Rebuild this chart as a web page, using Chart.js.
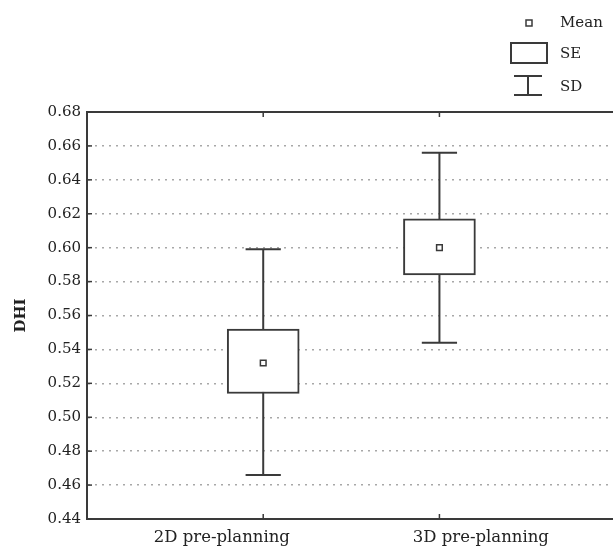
<!DOCTYPE html>
<html>
<head>
<meta charset="utf-8">
<script src="https://cdn.jsdelivr.net/npm/chart.js@4"></script>
<style>
  html, body { margin: 0; padding: 0; background: #ffffff; }
  #wrap { width: 613px; height: 549px; }
</style>
</head>
<body>
<div id="wrap"><canvas id="grafico"></canvas></div>
<script>
// Dados
const groups = ["2D pre-planning", "3D pre-planning"];
const means = [0.532, 0.600];
const seLow = [0.514, 0.584];
const seHigh = [0.552, 0.617];
const sdLow = [0.466, 0.544];
const sdHigh = [0.599, 0.656];
const yMin = 0.44, yMax = 0.68, yStep = 0.02;

const ink = "#3a3a3a";
const serif = "'DejaVu Serif', 'Liberation Serif', serif";
const capHalf = 0.1;      // meia largura da barra do SD (unidades de x)
const labelShift = 0.235; // deslocamento dos rótulos de x

const datasets = [];

// Caixas SE (barras flutuantes)
datasets.push({
  type: "bar",
  data: groups.map((g, i) => ({ x: i + 1, y: [seLow[i], seHigh[i]] })),
  backgroundColor: "#ffffff",
  borderColor: ink,
  borderWidth: 2,
  borderSkipped: false,
  barThickness: 72,
  order: 1
});

// Bigodes SD e barras das pontas
groups.forEach((g, i) => {
  const x = i + 1;
  const line = {
    type: "line",
    borderColor: ink,
    borderWidth: 2,
    pointRadius: 0,
    fill: false,
    order: 2
  };
  datasets.push({ ...line, data: [{ x: x, y: sdLow[i] }, { x: x, y: sdHigh[i] }] });
  datasets.push({ ...line, data: [{ x: x - capHalf, y: sdHigh[i] }, { x: x + capHalf, y: sdHigh[i] }] });
  datasets.push({ ...line, data: [{ x: x - capHalf, y: sdLow[i] }, { x: x + capHalf, y: sdLow[i] }] });
});

// Médias
datasets.push({
  type: "scatter",
  data: groups.map((g, i) => ({ x: i + 1, y: means[i] })),
  pointStyle: "rect",
  pointRadius: 4,
  backgroundColor: "#ffffff",
  borderColor: ink,
  borderWidth: 1.5,
  order: 0
});

// Moldura: linha de cima e marcas internas
const framePlugin = {
  id: "frame",
  afterDraw(chart) {
    const { ctx, chartArea: a, scales } = chart;
    ctx.save();
    ctx.strokeStyle = ink;
    ctx.lineWidth = 2;
    ctx.beginPath();
    ctx.moveTo(a.left, a.top);
    ctx.lineTo(a.right, a.top);
    ctx.stroke();
    ctx.lineWidth = 1.5;
    scales.y.ticks.forEach(t => {
      const y = scales.y.getPixelForValue(t.value);
      ctx.beginPath();
      ctx.moveTo(a.left, y);
      ctx.lineTo(a.left + 5, y);
      ctx.stroke();
    });
    groups.forEach((g, i) => {
      const x = scales.x.getPixelForValue(i + 1);
      ctx.beginPath();
      ctx.moveTo(x, a.bottom);
      ctx.lineTo(x, a.bottom - 5);
      ctx.moveTo(x, a.top);
      ctx.lineTo(x, a.top + 5);
      ctx.stroke();
    });
    ctx.restore();
  }
};

// Legenda desenhada à mão
const legendPlugin = {
  id: "legendaCustom",
  afterDraw(chart) {
    const ctx = chart.ctx;
    ctx.save();
    ctx.strokeStyle = ink;
    ctx.lineWidth = 1.5;
    ctx.strokeRect(526, 20, 6, 6);
    ctx.lineWidth = 2;
    ctx.strokeRect(511, 43, 36, 20);
    ctx.beginPath();
    ctx.moveTo(514, 76); ctx.lineTo(542, 76);
    ctx.moveTo(528, 76); ctx.lineTo(528, 95);
    ctx.moveTo(514, 95); ctx.lineTo(542, 95);
    ctx.stroke();
    ctx.fillStyle = "#222222";
    ctx.font = "15px " + serif;
    ctx.textBaseline = "middle";
    ctx.fillText("Mean", 560, 23);
    ctx.fillText("SE", 560, 54);
    ctx.fillText("SD", 560, 87);
    ctx.restore();
  }
};

new Chart(document.getElementById("grafico"), {
  type: "bar",
  data: { datasets: datasets },
  plugins: [framePlugin, legendPlugin],
  options: {
    responsive: true,
    maintainAspectRatio: false,
    animation: false,
    layout: { autoPadding: false, padding: { top: 112, right: 0, bottom: 0, left: 0 } },
    plugins: {
      legend: { display: false },
      tooltip: { enabled: false }
    },
    scales: {
      x: {
        type: "linear",
        offset: false,
        bounds: "data",
        min: 0,
        max: 2.985,
        afterFit: s => { s.height = 30; },
        afterBuildTicks: s => {
          s.ticks = groups.map((g, i) => ({ value: i === 0 ? 1 - labelShift : 2 + labelShift }));
        },
        ticks: {
          color: "#222222",
          padding: 9,
          font: { family: serif, size: 16.5 },
          callback: (v, i) => groups[i]
        },
        grid: { display: false, drawTicks: false, offset: false },
        border: { display: true, color: ink, width: 2 }
      },
      y: {
        min: yMin,
        max: yMax,
        afterFit: s => { s.width = 87; },
        ticks: {
          stepSize: yStep,
          color: "#222222",
          padding: 6,
          font: { family: serif, size: 15 },
          callback: v => v.toFixed(2)
        },
        grid: {
          drawTicks: false,
          lineWidth: 1.5,
          color: c => {
            const v = c.tick ? c.tick.value : 0;
            return (Math.abs(v - yMin) < 1e-6 || Math.abs(v - yMax) < 1e-6) ? "rgba(0,0,0,0)" : "#a8a8a8";
          }
        },
        border: { display: true, color: ink, width: 2, dash: [2, 5] },
        title: {
          display: true,
          text: "DHI",
          color: "#222222",
          font: { family: serif, size: 15, weight: "bold" },
          padding: { top: 12, bottom: 0 }
        }
      }
    }
  }
});
</script>
</body>
</html>
